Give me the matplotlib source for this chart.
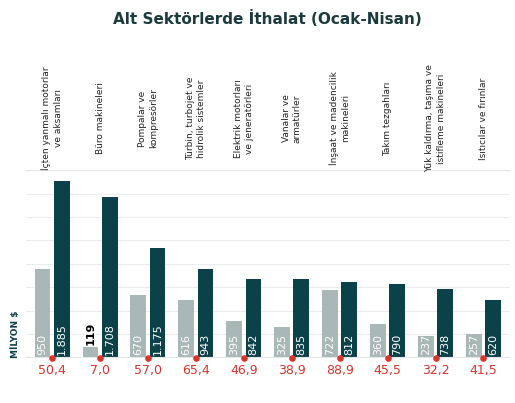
import matplotlib
matplotlib.use("Agg")
import matplotlib.pyplot as plt
import numpy as np

categories = ["İçten yanmalı motorlar\nve aksamları", "Büro makineleri", "Pompalar ve\nkompresörler",
              "Türbin, turbojet ve\nhidrolik sistemler", "Elektrik motorları\nve jeneratörleri",
              "Vanalar ve\narmatürler", "İnşaat ve madencilik\nmakineleri", "Takım tezgahları",
              "Yük kaldırma, taşıma ve\nistifleme makineleri", "Isıtıcılar ve fırınlar"]
prev = [950, 119, 670, 616, 395, 325, 722, 360, 237, 257]
curr = [1885, 1708, 1175, 943, 842, 835, 812, 790, 738, 620]
curr_labels = ["1.885", "1.708", "1.175", "943", "842", "835", "812", "790", "738", "620"]
pct = ["50,4", "7,0", "57,0", "65,4", "46,9", "38,9", "88,9", "45,5", "32,2", "41,5"]

GREY = "#a9b8b6"; DARK = "#0b4249"; RED = "#d9342b"
fig = plt.figure(figsize=(5.15, 4.03), dpi=100)
ax = fig.add_axes([0.05, 0.112, 0.94, 0.466])
x = np.arange(len(categories))
w = 0.33
ax.bar(x - 0.2, prev, w, color=GREY)
ax.bar(x + 0.2, curr, w, color=DARK)
ax.set_xlim(-0.55, len(categories) - 0.45)
ax.set_ylim(0, 2000)
ax.set_yticks(np.arange(250, 2001, 250))
ax.yaxis.grid(True, color="#ececec", lw=0.8)
ax.set_axisbelow(True)
for s in ax.spines.values():
    s.set_visible(False)
ax.axhline(0, color="#e6e6e6", lw=1.5)
ax.axhline(2000, color="#e6e6e6", lw=1.5)
ax.tick_params(left=False, bottom=False, labelleft=False, labelbottom=False)
for i in range(len(x)):
    if prev[i] > 200:
        ax.text(x[i] - 0.2, 30, str(prev[i]), rotation=90, ha="center", va="bottom", color="white", fontsize=8)
    else:
        ax.text(x[i] - 0.2, prev[i] + 20, str(prev[i]), rotation=90, ha="center", va="bottom", color="black", fontsize=8, fontweight="bold")
    ax.text(x[i] + 0.2, 30, curr_labels[i], rotation=90, ha="center", va="bottom", color="white", fontsize=8)
    ax.text(x[i], -130, pct[i], ha="center", va="center", color=RED, fontsize=9)
    ax.text(x[i], 2550, categories[i], rotation=90, ha="center", va="center", color="#222", fontsize=6.5, linespacing=1.3)
ax.scatter(x, [0] * len(x), color=RED, s=14, zorder=5, clip_on=False)
fig.text(0.03, 0.17, "MİLYON $", rotation=90, ha="center", va="center", color=DARK, fontsize=6.5, fontweight="bold")
fig.text(0.52, 0.955, "Alt Sektörlerde İthalat (Ocak-Nisan)", ha="center", va="center", color="#1b3a3e", fontsize=11, fontweight="bold")
fig.savefig("out.png", dpi=100)
